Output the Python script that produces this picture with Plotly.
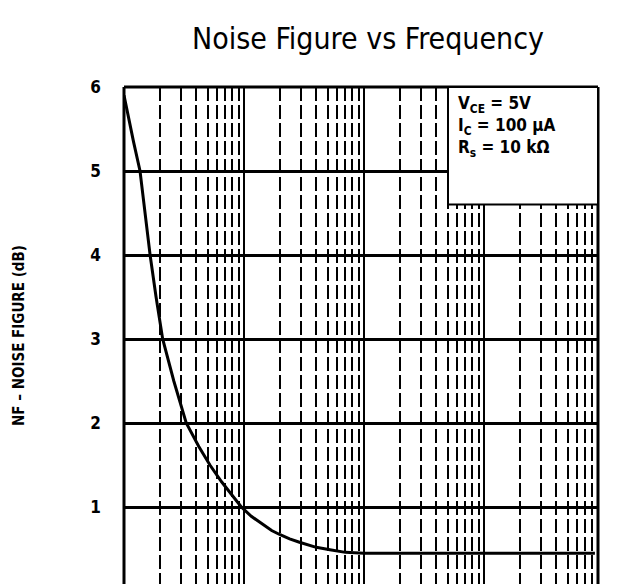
import numpy as np
import plotly.graph_objects as go

# ---- data ----
freq_hz = [10, 11, 12, 13.6, 15, 16.5, 18.5, 21, 26, 33, 42, 52, 65, 80, 95,
           115, 140, 170, 200, 240, 290, 340, 400, 520, 700, 1000, 2000,
           5000, 10000, 20000, 50000, 84000]
nf_db = [5.9, 5.6, 5.35, 5.0, 4.5, 4.0, 3.5, 3.0, 2.5, 2.0, 1.72, 1.5, 1.3,
         1.13, 1.0, 0.89, 0.8, 0.72, 0.67, 0.62, 0.58, 0.55, 0.52, 0.49,
         0.46, 0.45, 0.45, 0.45, 0.45, 0.45, 0.45, 0.45]
y_ticks = [0, 1, 2, 3, 4, 5, 6]
y_labels = ['<b>%d</b>' % v for v in y_ticks]
cond_text = '<b>V<sub>CE</sub> = 5V<br>I<sub>C</sub> = 100 µA<br>R<sub>s</sub> = 10 kΩ</b>'

font = 'DejaVu Sans Condensed, DejaVu Sans'

fig = go.Figure()
fig.add_trace(go.Scatter(x=freq_hz, y=nf_db, mode='lines',
                         line=dict(color='black', width=3),
                         showlegend=False))

x_right = 10 ** (1 + (598 - 124) / 120)

# ------------------------------ AXES ----------------------------------- #
fig.update_xaxes(type='log', range=[1, np.log10(x_right)], showticklabels=False,
                 showgrid=True, gridcolor='black', gridwidth=2, dtick=1,
                 minor=dict(showgrid=True, gridcolor='black', gridwidth=1.5,
                            griddash='14px,4px', dtick='D1'),
                 zeroline=False, showline=False)
fig.update_yaxes(range=[6 - (584 - 87) / 84, 6], tickvals=y_ticks, ticktext=y_labels,
                 tickfont=dict(family=font, size=17, color='black'),
                 showgrid=True, gridcolor='black', gridwidth=2.5,
                 zeroline=False, showline=False, ticks='', ticklabelstandoff=22,
                 title=dict(text='<b>NF – NOISE FIGURE (dB)</b>', standoff=62,
                            font=dict(family=font, size=15, color='black')))

# border (bottom is cut off in the scan)
for x0, y0, x1, y1 in [(0, 0, 0, 1), (0, 1, 1, 1), (1, 0, 1, 1)]:
    fig.add_shape(type='line', xref='x domain', yref='y domain',
                  x0=x0, y0=y0, x1=x1, y1=y1, line=dict(color='black', width=3))

# condition box
fig.add_shape(type='rect', xref='x domain', yref='y', x0=(448 - 124) / 474, x1=1,
              y0=4.6, y1=6, fillcolor='white', line=dict(color='black', width=2),
              layer='above')
fig.add_annotation(xref='x domain', yref='y', x=(456 - 124) / 474, y=5.95,
                   xanchor='left', yanchor='top', align='left', showarrow=False,
                   text=cond_text, font=dict(family=font, size=17, color='black'))

fig.update_layout(
    width=639, height=584,
    margin=dict(l=116, r=49, t=79, b=8),
    paper_bgcolor='white', plot_bgcolor='white',
    title=dict(text='Noise Figure vs Frequency', x=360 / 639, xanchor='center',
               y=1 - 30 / 584, yanchor='middle',
               font=dict(family=font, size=30, color='black')),
)

fig.write_html('out.html')
